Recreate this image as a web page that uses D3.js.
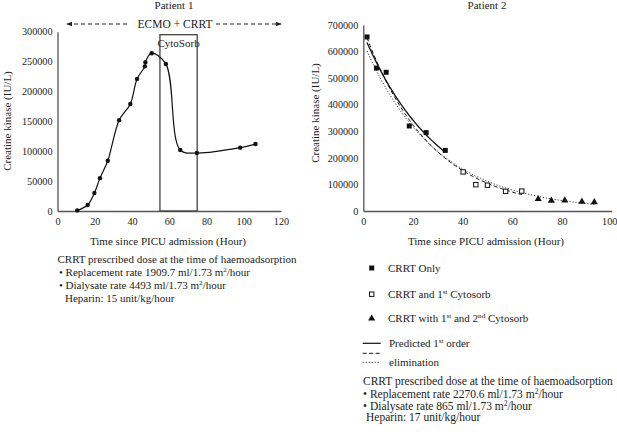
<!DOCTYPE html>
<html><head><meta charset="utf-8">
<script src="https://cdn.jsdelivr.net/npm/d3@7"></script>
<style>
body{margin:0;background:#fff;}
svg text{font-family:"Liberation Serif","Times New Roman",serif !important;}
</style></head>
<body><svg id="c" width="617" height="434"></svg>
<script>
// ---------- Data ----------
const p1Hours = [10.6, 16.2, 19.8, 22.8, 27.0, 33.1, 39.1, 42.7, 46.9, 47.2, 50.6, 58.2, 65.9, 74.8, 98.1, 106.3];
const p1CK    = [1000, 10000, 30000, 55000, 84000, 152000, 179000, 221000, 242000, 249000, 264000, 246000, 102000, 97000, 106000, 112000];
const cytoSorbWindow = [55, 75];
const cytoSorbTop = 295000;
const p1XTicks = [0, 20, 40, 60, 80, 100, 120];
const p1YTicks = [0, 50000, 100000, 150000, 200000, 250000, 300000];

const crrtOnlyHours = [1.5, 5.3, 9.2, 18.5, 25.3, 33.0];
const crrtOnlyCK    = [655000, 538000, 522000, 320000, 295000, 228000];
const cyto1Hours = [40.2, 45.3, 50.0, 57.3, 63.8];
const cyto1CK    = [147000, 99000, 97000, 74000, 75000];
const cyto2Hours = [70.4, 75.7, 81.1, 88.0, 93.0];
const cyto2CK    = [45000, 39000, 40000, 35000, 33000];
const p2XTicks = [0, 20, 40, 60, 80, 100];
const p2YTicks = [0, 100000, 200000, 300000, 400000, 500000, 600000, 700000];

const svg = d3.select("#c");
const axisColor = "#555";

function styleAxis(g){
  g.attr("font-family", null);
  g.select(".domain").attr("stroke", axisColor).attr("stroke-width", 1.3);
  g.selectAll(".tick line").remove();
  g.selectAll(".tick text").attr("font-size", 10.2).attr("fill", "#222");
}

// ---------- Patient 1 ----------
const x1 = d3.scaleLinear().domain([0, 120]).range([57.5, 281]);
const y1 = d3.scaleLinear().domain([0, 300000]).range([211, 31.7]);

svg.append("g").attr("transform", "translate(0,211)")
  .call(d3.axisBottom(x1).tickValues(p1XTicks).tickSize(0).tickPadding(7).tickFormat(d3.format("d")))
  .call(styleAxis);
svg.append("g").attr("transform", "translate(57.5,0)")
  .call(d3.axisLeft(y1).tickValues(p1YTicks).tickSize(0).tickPadding(5).tickFormat(d3.format("d")))
  .call(styleAxis);

svg.append("text").attr("x", 174).attr("y", 9).attr("text-anchor", "middle")
  .attr("font-size", 11).attr("fill", "#222").text("Patient 1");

svg.append("text").attr("x", 168).attr("y", 245).attr("text-anchor", "middle")
  .attr("font-size", 11).attr("fill", "#222").text("Time since PICU admission (Hour)");
svg.append("text").attr("transform", "translate(11,121) rotate(-90)").attr("text-anchor", "middle")
  .attr("font-size", 11).attr("fill", "#222").text("Creatine kinase (IU/L)");

// ECMO + CRRT arrow
const defs = svg.append("defs");
defs.append("marker").attr("id", "ah").attr("viewBox", "0 0 10 10").attr("refX", 9).attr("refY", 5)
  .attr("markerWidth", 6).attr("markerHeight", 6).attr("orient", "auto-start-reverse")
  .append("path").attr("d", "M0,1 L10,5 L0,9 Z").attr("fill", "#222");
svg.append("line").attr("x1", 67).attr("x2", 129).attr("y1", 24).attr("y2", 24)
  .attr("stroke", "#222").attr("stroke-width", 1).attr("stroke-dasharray", "4,3")
  .attr("marker-start", "url(#ah)");
svg.append("line").attr("x1", 216).attr("x2", 281).attr("y1", 24).attr("y2", 24)
  .attr("stroke", "#222").attr("stroke-width", 1).attr("stroke-dasharray", "4,3")
  .attr("marker-end", "url(#ah)");
svg.append("text").attr("x", 175).attr("y", 28).attr("text-anchor", "middle")
  .attr("font-size", 11.5).attr("fill", "#222").text("ECMO + CRRT");

// CytoSorb box
svg.append("rect").attr("x", x1(cytoSorbWindow[0])).attr("y", y1(cytoSorbTop))
  .attr("width", x1(cytoSorbWindow[1]) - x1(cytoSorbWindow[0]))
  .attr("height", y1(0) - y1(cytoSorbTop))
  .attr("fill", "none").attr("stroke", "#444").attr("stroke-width", 1.3);
svg.append("text").attr("x", (x1(cytoSorbWindow[0]) + x1(cytoSorbWindow[1])) / 2).attr("y", 47)
  .attr("text-anchor", "middle").attr("font-size", 11).attr("fill", "#222").text("CytoSorb");

const p1 = p1Hours.map((h, i) => [h, p1CK[i]]);
svg.append("path").datum(p1)
  .attr("d", d3.line().x(d => x1(d[0])).y(d => y1(d[1])).curve(d3.curveCatmullRom.alpha(0.5)))
  .attr("fill", "none").attr("stroke", "#111").attr("stroke-width", 1.2);
svg.append("g").selectAll("circle").data(p1).join("circle")
  .attr("cx", d => x1(d[0])).attr("cy", d => y1(d[1])).attr("r", 2.2).attr("fill", "#111");

// Left text block
function sup(t, s){ t.append("tspan").attr("baseline-shift", "super").attr("font-size", "0.65em").text(s); }
const tb1 = svg.append("g").attr("font-size", 11).attr("fill", "#222");
tb1.append("text").attr("x", 57.5).attr("y", 263).text("CRRT prescribed dose at the time of haemoadsorption");
let t = tb1.append("text").attr("x", 59).attr("y", 276);
t.append("tspan").text("• Replacement rate 1909.7 ml/1.73 m"); sup(t, "2"); t.append("tspan").text("/hour");
t = tb1.append("text").attr("x", 59).attr("y", 289);
t.append("tspan").text("• Dialysate rate 4493 ml/1.73 m"); sup(t, "2"); t.append("tspan").text("/hour");
tb1.append("text").attr("x", 65).attr("y", 301.5).text("Heparin: 15 unit/kg/hour");

// ---------- Patient 2 ----------
const x2 = d3.scaleLinear().domain([0, 100]).range([363.3, 611.7]);
const y2 = d3.scaleLinear().domain([0, 700000]).range([211, 25]);

svg.append("g").attr("transform", "translate(0,211)")
  .call(d3.axisBottom(x2).tickValues(p2XTicks).tickSize(0).tickPadding(7).tickFormat(d3.format("d")))
  .call(styleAxis)
  .call(g => g.selectAll(".tick text").filter(d => d === 100).attr("dx", -2.5));
svg.append("g").attr("transform", "translate(363.3,0)")
  .call(d3.axisLeft(y2).tickValues(p2YTicks).tickSize(0).tickPadding(5).tickFormat(d3.format("d")))
  .call(styleAxis);

svg.append("text").attr("x", 487).attr("y", 9).attr("text-anchor", "middle")
  .attr("font-size", 11).attr("fill", "#222").text("Patient 2");
svg.append("text").attr("x", 486).attr("y", 245).attr("text-anchor", "middle")
  .attr("font-size", 11).attr("fill", "#222").text("Time since PICU admission (Hour)");
svg.append("text").attr("transform", "translate(319,113) rotate(-90)").attr("text-anchor", "middle")
  .attr("font-size", 11).attr("fill", "#222").text("Creatine kinase (IU/L)");

// exponential least-squares fits (Excel-style trendlines)
function expFit(xs, ys){
  const ly = ys.map(Math.log);
  const mx = d3.mean(xs), my = d3.mean(ly);
  let sxy = 0, sxx = 0;
  xs.forEach((x, i) => { sxy += (x - mx) * (ly[i] - my); sxx += (x - mx) * (x - mx); });
  const b = sxy / sxx, a = Math.exp(my - b * mx);
  return x => a * Math.exp(b * x);
}
function fitPath(xs, ys, dash, w){
  const f = expFit(xs, ys);
  const pts = d3.range(0, 101).map(i => { const x = xs[0] + (d3.max(xs) - xs[0]) * i / 100; return [x, f(x)]; });
  svg.append("path").datum(pts)
    .attr("d", d3.line().x(d => x2(d[0])).y(d => y2(d[1])))
    .attr("fill", "none").attr("stroke", "#111").attr("stroke-width", w)
    .attr("stroke-dasharray", dash);
}
fitPath(crrtOnlyHours, crrtOnlyCK, null, 1.3);
fitPath(crrtOnlyHours.concat(cyto1Hours), crrtOnlyCK.concat(cyto1CK), "4,2.5", 1);
fitPath(crrtOnlyHours.concat(cyto1Hours, cyto2Hours), crrtOnlyCK.concat(cyto1CK, cyto2CK), "1,2", 1);

const sq = 5;
svg.append("g").selectAll("rect").data(crrtOnlyHours.map((h, i) => [h, crrtOnlyCK[i]])).join("rect")
  .attr("x", d => x2(d[0]) - sq / 2).attr("y", d => y2(d[1]) - sq / 2).attr("width", sq).attr("height", sq)
  .attr("fill", "#111");
const osq = 4.4;
svg.append("g").selectAll("rect").data(cyto1Hours.map((h, i) => [h, cyto1CK[i]])).join("rect")
  .attr("x", d => x2(d[0]) - osq / 2).attr("y", d => y2(d[1]) - osq / 2).attr("width", osq).attr("height", osq)
  .attr("fill", "#fff").attr("stroke", "#111").attr("stroke-width", 1);
const tri = d3.symbol().type(d3.symbolTriangle).size(22);
svg.append("g").selectAll("path").data(cyto2Hours.map((h, i) => [h, cyto2CK[i]])).join("path")
  .attr("transform", d => `translate(${x2(d[0])},${y2(d[1])})`).attr("d", tri).attr("fill", "#111");

// Legend
const lg = svg.append("g").attr("font-size", 11).attr("fill", "#222");
lg.append("rect").attr("x", 369.2).attr("y", 265.5).attr("width", 5).attr("height", 5).attr("fill", "#111");
lg.append("text").attr("x", 388).attr("y", 272).text("CRRT Only");
lg.append("rect").attr("x", 369.5).attr("y", 292).attr("width", 4.4).attr("height", 4.4)
  .attr("fill", "#fff").attr("stroke", "#111");
t = lg.append("text").attr("x", 388).attr("y", 298);
t.append("tspan").text("CRRT and 1"); sup(t, "st"); t.append("tspan").text(" Cytosorb");
lg.append("path").attr("transform", "translate(371.7,318.5)").attr("d", tri).attr("fill", "#111");
t = lg.append("text").attr("x", 388).attr("y", 322);
t.append("tspan").text("CRRT with 1"); sup(t, "st"); t.append("tspan").text(" and 2");
sup(t, "nd"); t.append("tspan").text(" Cytosorb");

lg.append("line").attr("x1", 362.7).attr("x2", 380.7).attr("y1", 343.3).attr("y2", 343.3)
  .attr("stroke", "#111").attr("stroke-width", 1.2);
lg.append("line").attr("x1", 362.7).attr("x2", 380.7).attr("y1", 353.3).attr("y2", 353.3)
  .attr("stroke", "#111").attr("stroke-width", 1).attr("stroke-dasharray", "4,2.5");
lg.append("line").attr("x1", 362.7).attr("x2", 380.7).attr("y1", 362.3).attr("y2", 362.3)
  .attr("stroke", "#111").attr("stroke-width", 1).attr("stroke-dasharray", "1,2");
t = lg.append("text").attr("x", 389).attr("y", 347);
t.append("tspan").text("Predicted 1"); sup(t, "st"); t.append("tspan").text(" order");
lg.append("text").attr("x", 389).attr("y", 366).text("elimination");

const tb2 = svg.append("g").attr("font-size", 11.5).attr("fill", "#222");
tb2.append("text").attr("x", 363).attr("y", 385).text("CRRT prescribed dose at the time of haemoadsorption");
t = tb2.append("text").attr("x", 363).attr("y", 398);
t.append("tspan").text("• Replacement rate 2270.6 ml/1.73 m"); sup(t, "2"); t.append("tspan").text("/hour");
t = tb2.append("text").attr("x", 363).attr("y", 409.5);
t.append("tspan").text("• Dialysate rate 865 ml/1.73 m"); sup(t, "2"); t.append("tspan").text("/hour");
tb2.append("text").attr("x", 366).attr("y", 420.5).text("Heparin: 17 unit/kg/hour");
</script></body></html>
